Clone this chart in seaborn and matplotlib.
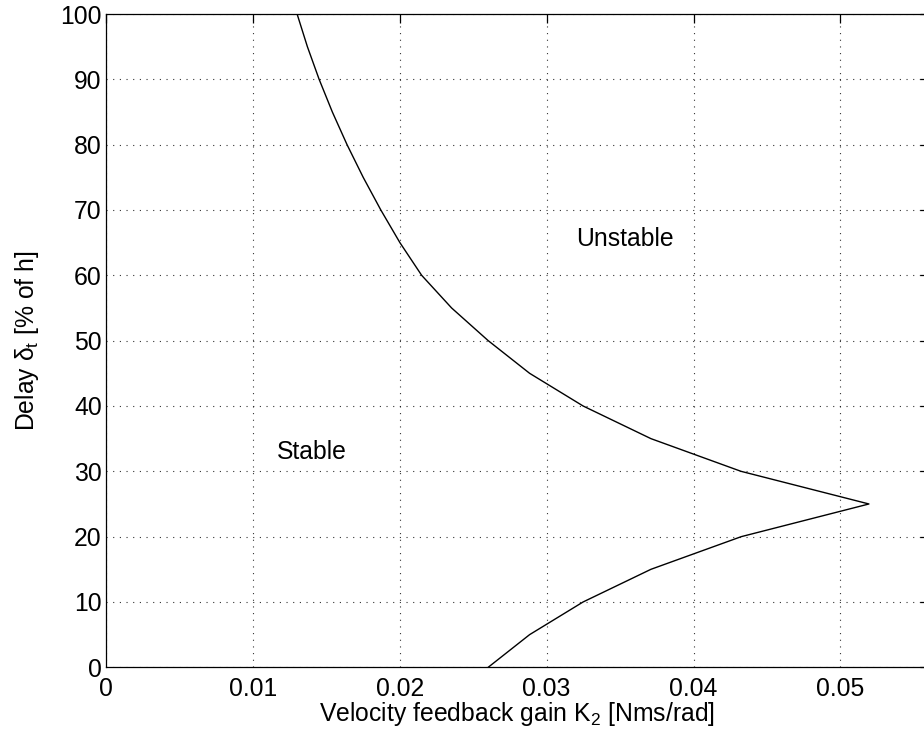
import matplotlib
matplotlib.use("Agg")
import matplotlib.pyplot as plt
import seaborn as sns
import pandas as pd

# Stability boundary: delay (percent of sample period) vs velocity feedback gain
delay_pct = [0, 5, 10, 15, 20, 25, 30, 35, 40, 45, 50,
             55, 60, 65, 70, 75, 80, 85, 90, 95, 100]
gain_k2 = [0.02602, 0.02884, 0.03248, 0.03710, 0.04325, 0.05194, 0.04323,
           0.03710, 0.03248, 0.02884, 0.02602, 0.02353, 0.02149, 0.02001,
           0.01871, 0.01751, 0.01641, 0.01541, 0.01451, 0.01371, 0.01301]

x_ticks = [0, 0.01, 0.02, 0.03, 0.04, 0.05]
x_tick_labels = ["0", "0.01", "0.02", "0.03", "0.04", "0.05"]
y_ticks = [0, 10, 20, 30, 40, 50, 60, 70, 80, 90, 100]

df = pd.DataFrame({"K2": gain_k2, "delay": delay_pct})

sns.set_theme(style="white")
plt.rcParams["font.family"] = ["Liberation Sans", "DejaVu Sans"]
plt.rcParams["text.color"] = "black"
plt.rcParams["mathtext.fontset"] = "custom"
plt.rcParams["mathtext.rm"] = "Liberation Sans"
plt.rcParams["mathtext.it"] = "Liberation Sans"
plt.rcParams["mathtext.bf"] = "Liberation Sans:bold"

FS = 17.8

W, H = 924, 740
fig = plt.figure(figsize=(W / 100, H / 100), dpi=100)
left, right, top, bottom = 106, 929, 14, 667.3
ax = fig.add_axes([left / W, 1 - bottom / H, (right - left) / W, (bottom - top) / H])

sns.lineplot(data=df, x="K2", y="delay", sort=False, estimator=None,
             color="black", linewidth=1.0, ax=ax)

ax.set_xlim(0, 0.05603)
ax.set_ylim(0, 100)
ax.set_xticks(x_ticks)
ax.set_xticklabels(x_tick_labels)
ax.set_yticks(y_ticks)

ax.grid(True, color="black", linestyle=(0, (1, 5)), linewidth=0.8, alpha=0.8)
for s in ax.spines.values():
    s.set_visible(True)
    s.set_color("black")
    s.set_linewidth(0.9)

ax.tick_params(axis="both", direction="in", length=6.5, width=0.9, color="black",
               labelsize=FS, labelcolor="black", top=True, right=True)
ax.tick_params(axis="x", pad=7)
ax.tick_params(axis="y", pad=3)

ax.set_xlabel(r"Velocity feedback gain K$_2$ [Nms/rad]", fontsize=FS,
              color="black", labelpad=-1)
ax.set_ylabel(r"Delay $\delta_\mathrm{t}$ [% of h]", fontsize=FS,
              color="black", labelpad=14)

ax.text(0.0320, 65.5, "Unstable", fontsize=FS, ha="left", va="center")
ax.text(0.01165, 33.0, "Stable", fontsize=FS, ha="left", va="center")

fig.savefig("out.png", dpi=100, facecolor="white")
